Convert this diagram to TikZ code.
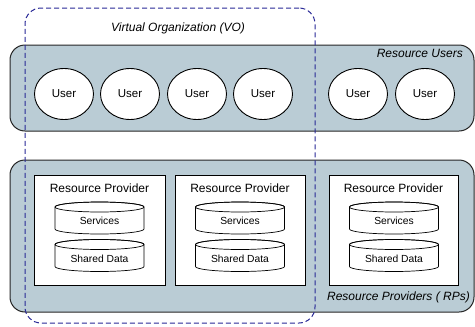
\documentclass[tikz,border=0pt]{standalone}
\usepackage{fontspec}
\setmainfont{Liberation Sans}
\usetikzlibrary{shapes.geometric}
\begin{document}
\begin{tikzpicture}[x=1pt,y=-1pt,
  panel/.style={draw=black!85,line width=1pt,fill=panelfill,rounded corners=15pt},
  vo/.style={draw=voblue,line width=1pt,dash pattern=on 5pt off 3pt,rounded corners=16pt},
  user/.style={draw=black,line width=0.9pt,fill=white,ellipse,minimum width=59pt,minimum height=51pt,inner sep=0pt,font=\fontsize{11.5}{13}\selectfont},
  rpbox/.style={draw=black,line width=0.9pt,fill=white},
  cyl/.style={draw=black,line width=0.7pt,fill=white},
  cyltext/.style={inner sep=0pt,font=\fontsize{10.3}{12}\selectfont},
  rptitle/.style={inner sep=0pt,font=\fontsize{12}{14}\selectfont},
  label/.style={inner sep=0pt,font=\fontsize{12}{14}\selectfont\itshape}]
\definecolor{panelfill}{RGB}{186,204,213}
\definecolor{voblue}{RGB}{40,40,150}
\useasboundingbox (0,0) rectangle (475,327);
\newcommand\mycyl[4]{%
  \path[cyl] (#2-44.5,#3-11) -- (#2-44.5,#3+11) arc[start angle=180,end angle=360,x radius=44.5pt,y radius=5pt] -- (#2+44.5,#3-11) arc[start angle=0,end angle=180,x radius=44.5pt,y radius=5pt] -- cycle;
  \draw[line width=0.7pt] (#2,#3-11) ellipse [x radius=44.5pt,y radius=5pt];
  \node[cyltext] (#1) at (#2,#3+3) {#4};}
% panels
\node[panel,minimum width=464pt,minimum height=86pt,inner sep=0pt] (users) at (242,88) {};
\node[panel,minimum width=464pt,minimum height=152pt,inner sep=0pt] (providers) at (242,236) {};
% VO
\node[vo,minimum width=290pt,minimum height=315pt,inner sep=0pt] (voarea) at (170,165.5) {};
\node[label] (volabel) at (178,28) {Virtual Organization (VO)};
\node[label,anchor=east] (rulabel) at (463,53) {Resource Users};
\node[label,anchor=east] (rplabel) at (470,297) {Resource Providers ( RPs)};
% users
\node[user] (u1) at (64,94) {User};
\node[user] (u2) at (130,94) {User};
\node[user] (u3) at (197,94) {User};
\node[user] (u4) at (263,94) {User};
\node[user] (u5) at (358,94) {User};
\node[user] (u6) at (425,94) {User};
% resource providers
\node[rpbox,minimum width=131pt,minimum height=110pt,inner sep=0pt] (rp1) at (99.5,230) {};
\node[rpbox,minimum width=130pt,minimum height=110pt,inner sep=0pt] (rp2) at (240,230) {};
\node[rpbox,minimum width=129pt,minimum height=110pt,inner sep=0pt] (rp3) at (393.5,230) {};
\node[rptitle] (t1) at (99.5,188) {Resource Provider};
\node[rptitle] (t2) at (240,188) {Resource Provider};
\node[rptitle] (t3) at (393.5,188) {Resource Provider};
\mycyl{s1}{99.5}{218}{Services}
\mycyl{d1}{99.5}{255.5}{Shared Data}
\mycyl{s2}{240}{218}{Services}
\mycyl{d2}{240}{255.5}{Shared Data}
\mycyl{s3}{394}{218}{Services}
\mycyl{d3}{394}{255.5}{Shared Data}
\end{tikzpicture}
\end{document}
